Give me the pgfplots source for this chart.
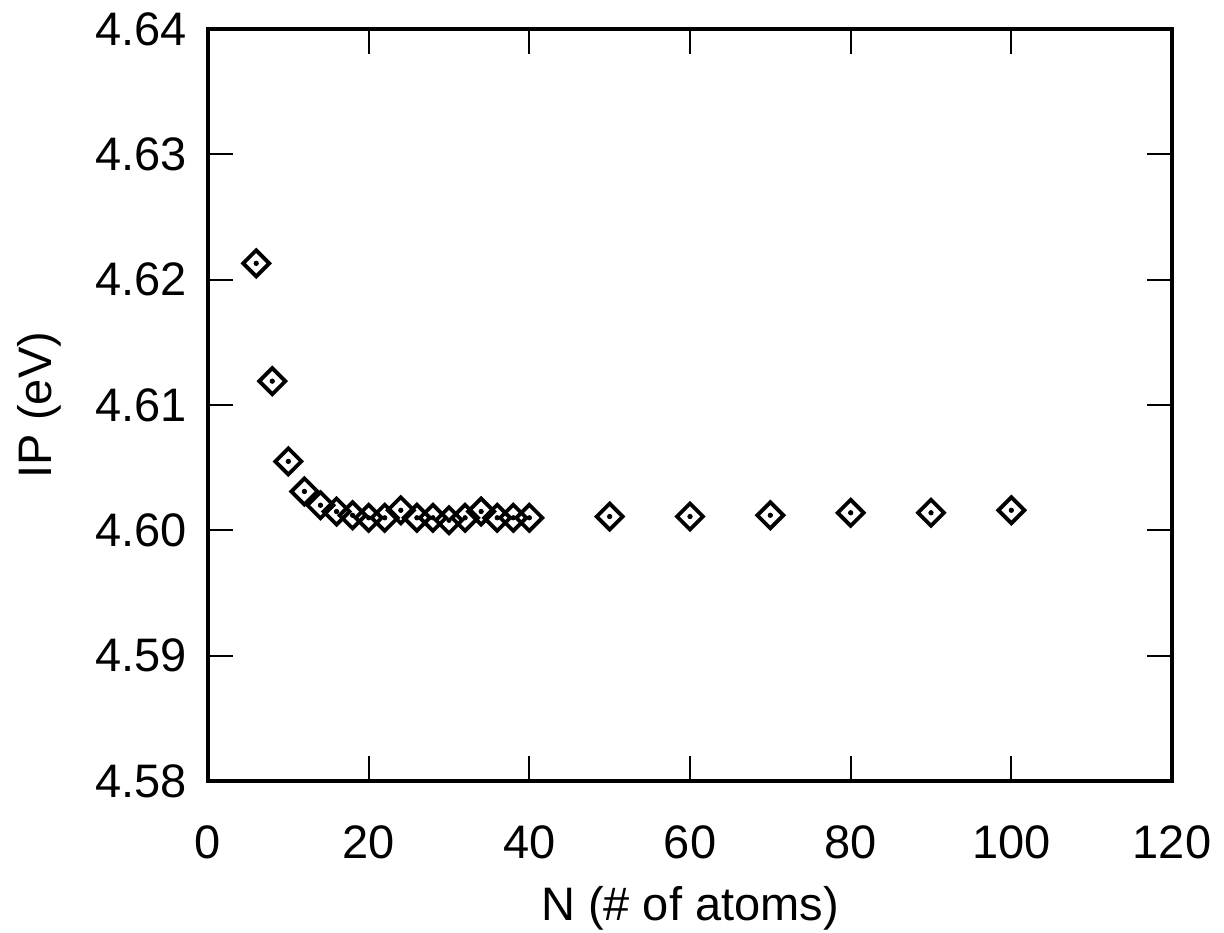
\documentclass[border=0pt]{standalone}
\usepackage{fontspec}
\setmainfont{Liberation Sans}
\usepackage{pgfplots}
\pgfplotsset{compat=1.18}
\usepackage{pgfplotstable}

% IP vs cluster size
\pgfplotstableread{
N IP
6 4.6213
8 4.6119
10 4.6055
12 4.6031
14 4.6020
16 4.6015
18 4.6012
20 4.6010
22 4.6010
24 4.6016
26 4.6010
28 4.6010
30 4.6008
32 4.6010
34 4.6015
36 4.6010
38 4.6010
40 4.6010
50 4.6011
60 4.6011
70 4.6012
80 4.6014
90 4.6014
100 4.6016
}\iptable

\begin{document}
\begin{tikzpicture}
\begin{axis}[
    scale only axis,
    width=482pt, height=376pt,
    xmin=0, xmax=120,
    ymin=4.58, ymax=4.64,
    xtick={0,20,...,120},
    ytick={4.58,4.59,4.60,4.61,4.62,4.63,4.64},
    minor tick num=0,
    tick align=inside,
    major tick length=12.5pt,
    tick style={line width=1.1pt, black},
    axis line style={line width=1.6pt},
    font=\fontsize{23.5}{28}\selectfont,
    tick label style={font=\fontsize{23.5}{28}\selectfont},
    y tick label style={/pgf/number format/.cd, fixed, fixed zerofill, precision=2, assume math mode=true, /tikz/.cd, xshift=-7pt},
    x tick label style={/pgf/number format/assume math mode=true, yshift=-19pt},
    xlabel={N (\# of atoms)},
    ylabel={IP (eV)},
    ylabel style={yshift=10pt},
    xlabel style={yshift=-6.5pt},
    clip=false,
]
\addplot[only marks, mark=square, mark size=4.6pt,
    mark options={rotate=45, line width=1.9pt, fill=white}] table[x=N, y=IP] {\iptable};
\addplot[only marks, mark=*, mark size=1.1pt] table[x=N, y=IP] {\iptable};
\end{axis}
% page frame with the reference's margins around the axis box
\pgfresetboundingbox
\path ([shift={(-104pt,-76pt)}]current axis.south west) rectangle ([shift={(26pt,14.5pt)}]current axis.north east);
\end{tikzpicture}
\end{document}
